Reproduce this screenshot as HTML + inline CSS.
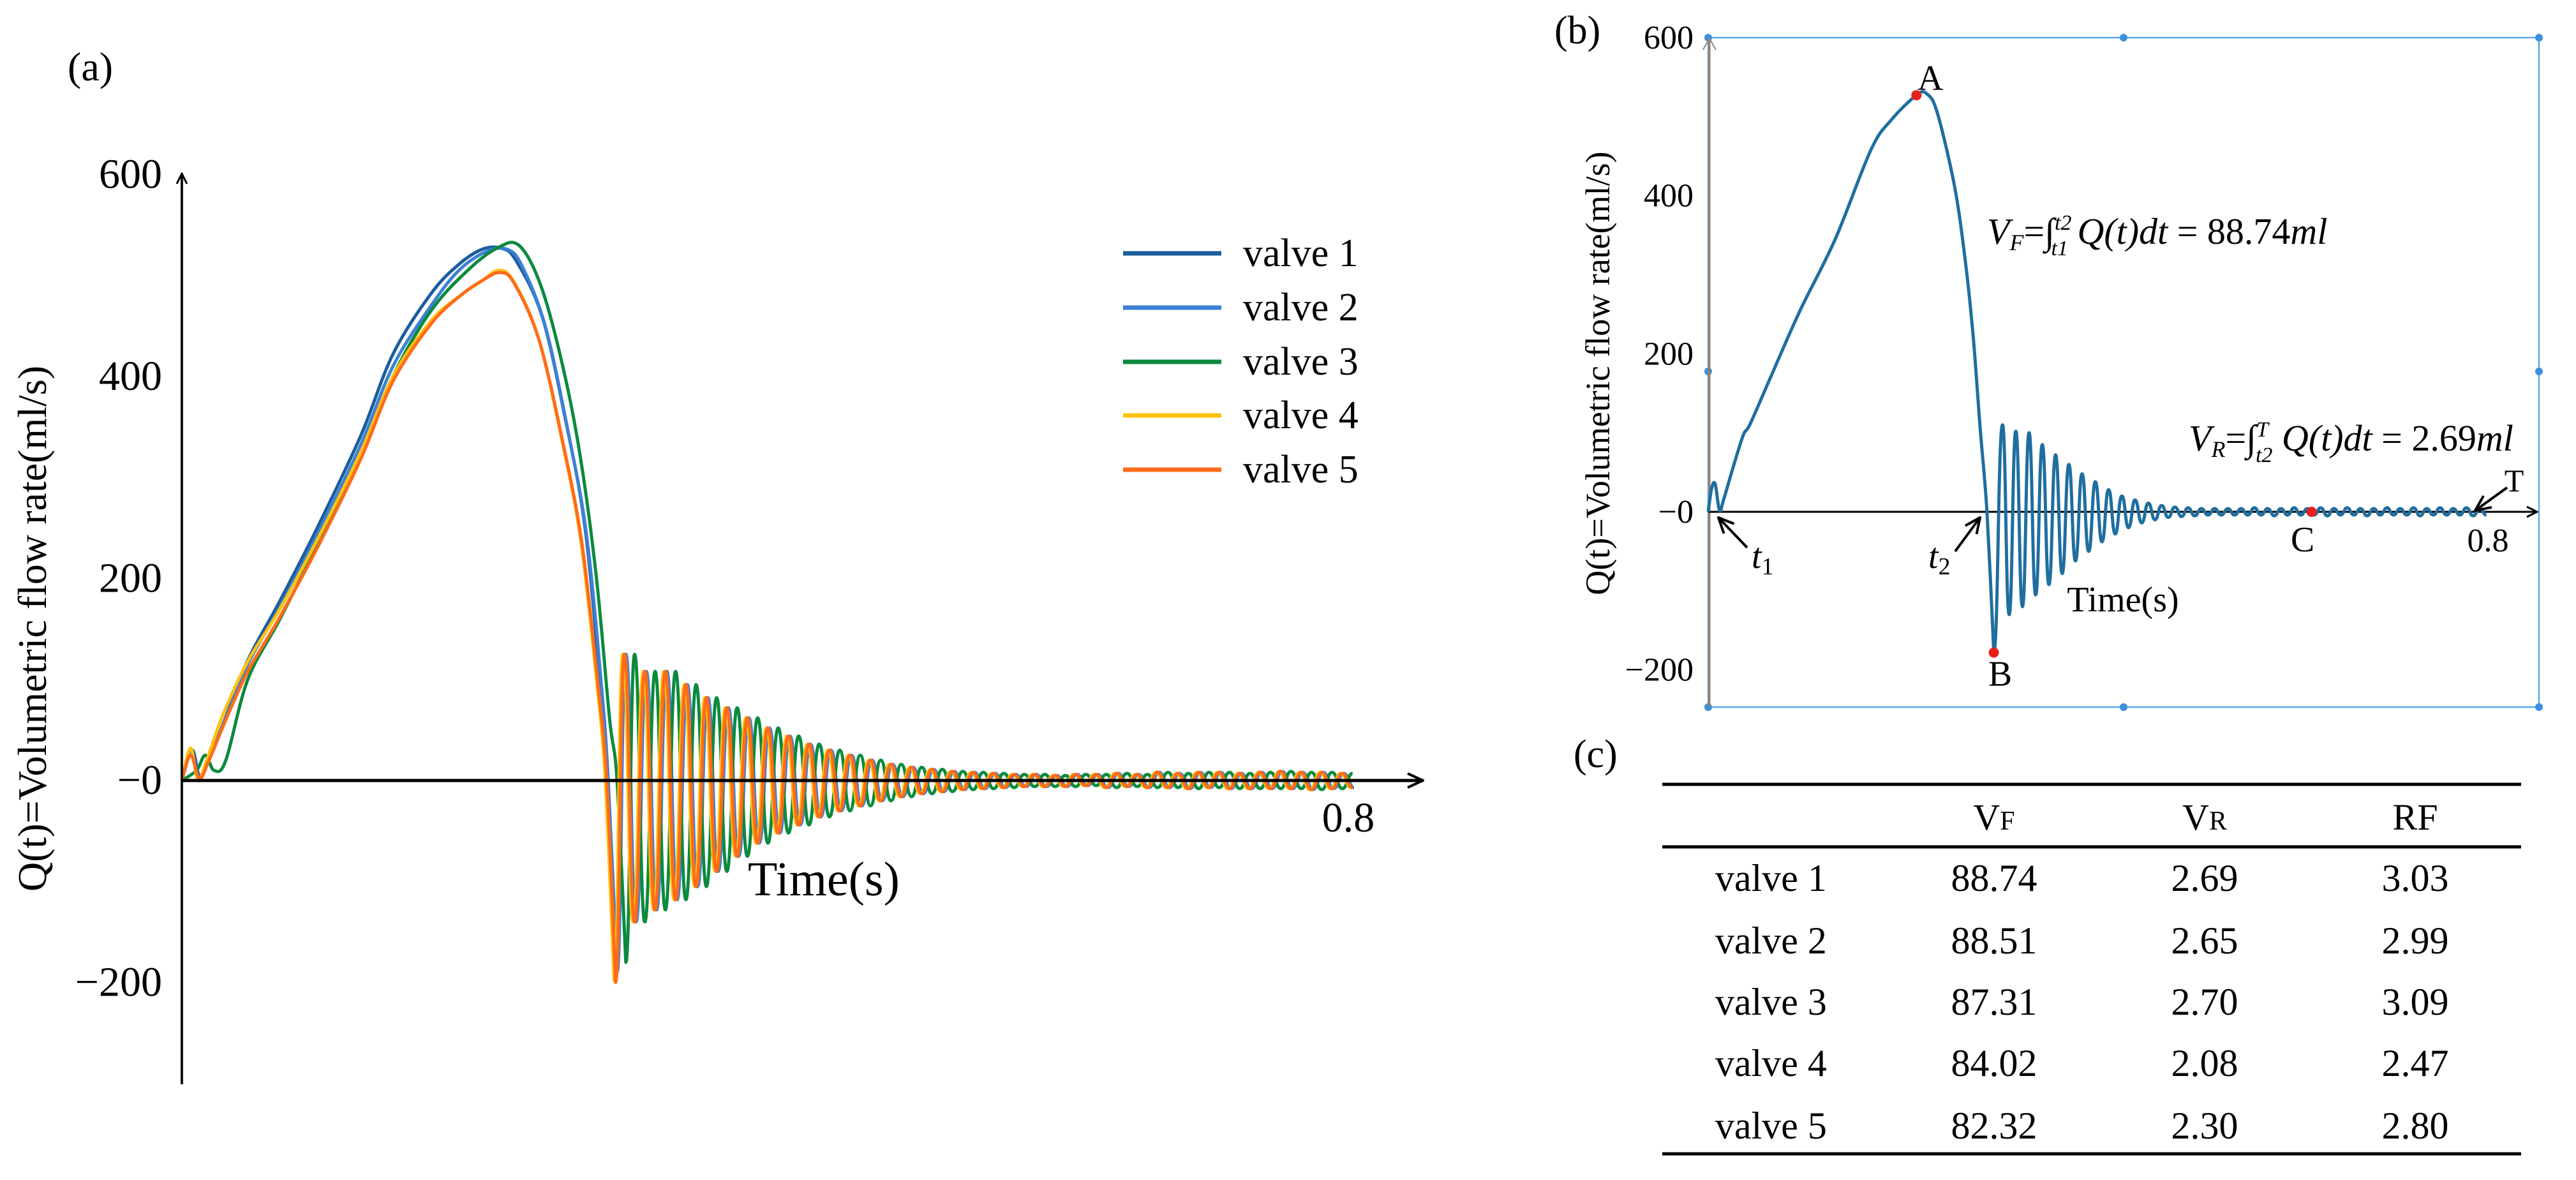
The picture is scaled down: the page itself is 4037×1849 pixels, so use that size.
<!DOCTYPE html>
<html><head><meta charset="utf-8"><style>
html,body{margin:0;padding:0;background:#fff;}
svg, svg text, svg tspan{font-family:"Liberation Serif","Times New Roman",serif !important;}
</style></head><body>
<svg id="fig" width="4037" height="1844" viewBox="0 0 4037 1844" xmlns="http://www.w3.org/2000/svg" font-family="Liberation Serif, serif">
<defs>
<marker id="arr" viewBox="0 0 20 20" refX="18" refY="10" markerWidth="20" markerHeight="20" markerUnits="userSpaceOnUse" orient="auto"><path d="M2,2 L18,10 L2,18" fill="none" stroke="#000" stroke-width="3"/></marker>
<marker id="arrB" viewBox="0 0 30 30" refX="28" refY="15" markerWidth="30" markerHeight="30" markerUnits="userSpaceOnUse" orient="auto"><path d="M4,4 L28,15 L4,26" fill="none" stroke="#000" stroke-width="4"/></marker>
</defs>
<g id="panelA" font-family="Liberation Serif, serif"></g>
<g id="panelB" font-family="Liberation Serif, serif"></g>
<g id="panelC" font-family="Liberation Serif, serif"></g>
</svg>
<script>
// ---------- Panel (a) data ----------
const valveNames = ["valve 1","valve 2","valve 3","valve 4","valve 5"];
const valveColors = ["#1a5e9e","#3d80d6","#0b8a3e","#ffc20e","#ff6b1a"];
const riseV1 = [[0,0],[0.007,30],[0.012,5],[0.018,20],[0.029,59],[0.045,119],[0.067,178],[0.093,252],[0.122,341],[0.144,422],[0.170,482],[0.189,511],[0.205,526],[0.218,527],[0.228,515],[0.246,459],[0.262,356],[0.275,252],[0.285,104],[0.290,0],[0.296,-195]];
const riseV2 = [[0,0],[0.006,28],[0.012,3],[0.018,22],[0.029,58],[0.045,115],[0.067,172],[0.093,245],[0.122,332],[0.144,410],[0.170,470],[0.189,505],[0.208,524],[0.222,526],[0.232,510],[0.248,450],[0.263,350],[0.276,245],[0.286,100],[0.291,0],[0.297,-190]];
const riseV3 = [[0,0],[0.010,10],[0.016,25],[0.022,10],[0.030,20],[0.045,100],[0.067,160],[0.093,235],[0.122,322],[0.144,400],[0.170,465],[0.195,505],[0.215,527],[0.230,530],[0.245,490],[0.260,410],[0.272,320],[0.283,200],[0.292,60],[0.297,0],[0.303,-180]];
const riseV4 = [[0,0],[0.006,32],[0.011,0],[0.017,20],[0.028,65],[0.045,118],[0.067,170],[0.093,240],[0.122,325],[0.144,400],[0.170,455],[0.190,480],[0.205,495],[0.216,505],[0.226,495],[0.243,440],[0.259,340],[0.272,240],[0.283,100],[0.289,0],[0.295,-198]];
const riseV5 = [[0,0],[0.006,25],[0.012,2],[0.018,18],[0.030,60],[0.045,108],[0.067,162],[0.093,232],[0.122,318],[0.144,395],[0.170,452],[0.190,480],[0.205,495],[0.217,503],[0.227,492],[0.244,435],[0.260,335],[0.273,235],[0.284,95],[0.290,0],[0.296,-200]];
const oscStartA = [0.302,0.303,0.309,0.301,0.302];
const oscHalfPeriodA = 0.007;
const oscExtremaA = [125,-140,108,-128,108,-118,95,-105,82,-90,72,-75,62,-62,52,-52,44,-44,36,-36,30,-30,25,-25,20,-20,16,-16,13,-13,11,-11,9,-9,8,-8,7,-7,6,-6,6,-6,5,-6,6,-5,6,-7,7,-6,6,-7,8,-7,7,-8,8,-7,8,-8,7,-8,8,-8,9,-8,8,-9,8,-8,7,-7,6];
const yTicksA = [600,400,200,0,-200];
const yTickLabelsA = ["600","400","200","\u22120","\u2212200"];

// ---------- Panel (b) data ----------
const riseB = [[0,0],[0.0036,30],[0.0072,35],[0.0116,2],[0.016,16],[0.025,54],[0.036,97],[0.043,111],[0.065,173],[0.094,254],[0.130,344],[0.167,458],[0.188,496],[0.2136,527],[0.224,529],[0.235,505],[0.253,410],[0.264,315],[0.272,220],[0.279,106],[0.286,0],[0.293,-178]];
const oscStartB = 0.302;
const oscHalfPeriodB = 0.0068;
const oscExtremaB = [110,-130,102,-120,100,-105,85,-92,72,-78,60,-62,48,-50,38,-38,28,-28,20,-20,15,-14,11,-10,8,-7,6,-6,5,-5,4,-4,4,-4,4,-4,4,-4,5,-4,4,-5,4,-4,5,-4,4,-4,5,-5,4,-4,5,-4,4,-5,4,-4,5,-4,4,-4,5,-5,4,-4,5,-4,4,-4,5,-5,4,-4];
const yTicksB = [600,400,200,0,-200];
const yTickLabelsB = ["600","400","200","\u22120","\u2212200"];
const pointA = [0.2136,527];
const pointB = [0.293,-178];
const pointC = [0.619,0];

// ---------- Panel (c) data ----------
const tableRows = ["valve 1","valve 2","valve 3","valve 4","valve 5"];
const tableVF = ["88.74","88.51","87.31","84.02","82.32"];
const tableVR = ["2.69","2.65","2.70","2.08","2.30"];
const tableRF = ["3.03","2.99","3.09","2.47","2.80"];

const NS = "http://www.w3.org/2000/svg";
const SERIF = "Liberation Serif, Times New Roman, serif";
function mk(parent, tag, attrs, text){
  const e = document.createElementNS(NS, tag);
  for (const k in attrs) e.setAttribute(k, attrs[k]);
  if (tag === "text") e.setAttribute("font-family", SERIF);
  if (text !== undefined) e.textContent = text;
  parent.appendChild(e);
  return e;
}
function splinePath(pts){
  let d = "M" + pts[0][0].toFixed(1) + "," + pts[0][1].toFixed(1);
  for (let i = 0; i < pts.length - 1; i++){
    const p0 = pts[Math.max(0,i-1)], p1 = pts[i], p2 = pts[i+1], p3 = pts[Math.min(pts.length-1,i+2)];
    const c1x = p1[0] + (p2[0]-p0[0])/6, c1y = p1[1] + (p2[1]-p0[1])/6;
    const c2x = p2[0] - (p3[0]-p1[0])/6, c2y = p2[1] - (p3[1]-p1[1])/6;
    d += " C" + c1x.toFixed(1) + "," + c1y.toFixed(1) + " " + c2x.toFixed(1) + "," + c2y.toFixed(1) + " " + p2[0].toFixed(1) + "," + p2[1].toFixed(1);
  }
  return d;
}
function oscPath(startPt, t0, half, ext, tEnd, xs, ys){
  let d = "";
  let px = startPt[0], py = startPt[1];
  for (let i = 0; i < ext.length; i++){
    const t = t0 + i*half;
    if (t > tEnd) break;
    const nx = xs(t), ny = ys(ext[i]);
    const mx = (px + nx)/2;
    d += " C" + mx.toFixed(1) + "," + py.toFixed(1) + " " + mx.toFixed(1) + "," + ny.toFixed(1) + " " + nx.toFixed(1) + "," + ny.toFixed(1);
    px = nx; py = ny;
  }
  return d;
}

// ================= Panel A =================
(function(){
  const g = document.getElementById("panelA");
  const xs = t => 285 + t/0.8*(2122-285);
  const ys = q => 1223 - q*1.5825;
  const lab = mk(g,"text",{x:106,y:126,"font-size":64,fill:"#000"},"(a)");
  
  
  const rises = [riseV1,riseV2,riseV3,riseV4,riseV5];
  rises.forEach((r,i)=>{
    const pts = r.map(p=>[xs(p[0]),ys(p[1])]);
    let d = splinePath(pts);
    d += oscPath(pts[pts.length-1], oscStartA[i], oscHalfPeriodA, oscExtremaA, 0.8, xs, ys);
    const p = mk(g,"path",{d:d,fill:"none",stroke:valveColors[i],"stroke-width":5,"stroke-linejoin":"round"});
    
    
  });
  const ya = mk(g,"line",{x1:285,y1:1699,x2:285,y2:272,stroke:"#111","stroke-width":4,"marker-end":"url(#arr)"});
  
  
  const xa = mk(g,"line",{x1:285,y1:1223,x2:2230,y2:1223,stroke:"#000","stroke-width":5,"marker-end":"url(#arrB)"});
  
  
  yTicksA.forEach((v,i)=>{
    const t = mk(g,"text",{x:254,y:ys(v)+21,"font-size":66,"text-anchor":"end",fill:"#000"},yTickLabelsA[i]);
    
    
  });
  const xt = mk(g,"text",{x:2113,y:1303,"font-size":66,"text-anchor":"middle",fill:"#000"},"0.8");
  
  
  const xtitle = mk(g,"text",{x:1291,y:1403,"font-size":76,"text-anchor":"middle",fill:"#000"},"Time(s)");
  
  
  const ytitle = mk(g,"text",{x:0,y:0,"font-size":64,"text-anchor":"middle",fill:"#000",transform:"translate(72,985) rotate(-90)"},"Q(t)=Volumetric flow rate(ml/s)");
  
  
  const lg = mk(g,"g",{});
  
  
  const legY = [397,482,567,651,736];
  valveNames.forEach((n,i)=>{
    const e = mk(lg,"g",{});
    
    
    mk(e,"line",{x1:1760,y1:legY[i],x2:1914,y2:legY[i],stroke:valveColors[i],"stroke-width":7});
    mk(e,"text",{x:1948,y:legY[i]+20,"font-size":62,fill:"#000"},n);
  });
})();

// ================= Panel B =================
(function(){
  const g = document.getElementById("panelB");
  const xs = t => 2677 + t/0.8*(3899-2677);
  const ys = q => 802 - q*1.2387;
  const lab = mk(g,"text",{x:2436,y:68,"font-size":62,fill:"#000"},"(b)");
  
  
  const box = mk(g,"rect",{x:2677,y:59,width:1302,height:1049,fill:"none",stroke:"#5aa9e6","stroke-width":2.5});
  
  
  [[2677,59],[3328,59],[3979,59],[2677,582],[3979,582],[2677,1108],[3328,1108],[3979,1108]].forEach(h=>{
    const c = mk(g,"circle",{cx:h[0],cy:h[1],r:6,fill:"#3d8fe0"});
    
    
  });
  const ya = mk(g,"line",{x1:2679,y1:1108,x2:2679,y2:62,stroke:"#a07a50","stroke-width":3});
  
  
  mk(g,"path",{d:"M2669,78 L2679,60 L2689,78",fill:"none",stroke:"#888","stroke-width":2});
  const xa = mk(g,"line",{x1:2677,y1:802,x2:3976,y2:802,stroke:"#000","stroke-width":3,"marker-end":"url(#arr)"});
  
  
  const pts = riseB.map(p=>[xs(p[0]),ys(p[1])]);
  let d = splinePath(pts);
  d += oscPath(pts[pts.length-1], oscStartB, oscHalfPeriodB, oscExtremaB, 0.8, xs, ys);
  const s = mk(g,"path",{d:d,fill:"none",stroke:"#1f6e9f","stroke-width":5,"stroke-linejoin":"round"});
  
  
  yTicksB.forEach((v,i)=>{
    const t = mk(g,"text",{x:2654,y:ys(v)+17,"font-size":52,"text-anchor":"end",fill:"#000"},yTickLabelsB[i]);
    
    
  });
  const xt = mk(g,"text",{x:3899,y:864,"font-size":52,"text-anchor":"middle",fill:"#000"},"0.8");
  
  
  const xtitle = mk(g,"text",{x:3327,y:958,"font-size":56,"text-anchor":"middle",fill:"#000"},"Time(s)");
  
  
  const ytitle = mk(g,"text",{x:0,y:0,"font-size":54,"text-anchor":"middle",fill:"#000",transform:"translate(2522,585) rotate(-90)"},"Q(t)=Volumetric flow rate(ml/s)");
  
  
  [[pointA,"A",22,-8,"point-a"],[pointB,"B",10,52,"point-b"],[pointC,"C",-14,62,"point-c"]].forEach(k=>{
    const c = mk(g,"circle",{cx:xs(k[0][0]),cy:ys(k[0][1]),r:8,fill:"#e8201c"});
    
    
    const t = mk(g,"text",{x:xs(k[0][0])+k[2],y:ys(k[0][1])+k[3],"font-size":56,"text-anchor":"middle",fill:"#000"},k[1]);
    
    
  });
  const tl = mk(g,"text",{x:3940,y:770,"font-size":50,"text-anchor":"middle",fill:"#000"},"T");
  
  
  [[2738,858,2693,811,"t1-arrow"],[3064,864,3103,811,"t2-arrow"],[3929,764,3879,800,"t-end-arrow"]].forEach(a=>{
    const l = mk(g,"line",{x1:a[0],y1:a[1],x2:a[2],y2:a[3],stroke:"#000","stroke-width":4,"marker-end":"url(#arrB)"});
    
    
  });
  const t1 = mk(g,"text",{x:2745,y:890,"font-size":56,"font-style":"italic",fill:"#000"});
  t1.innerHTML = 't<tspan font-size="38" dy="10" font-style="normal">1</tspan>';
  
  
  const t2 = mk(g,"text",{x:3022,y:890,"font-size":56,"font-style":"italic",fill:"#000"});
  t2.innerHTML = 't<tspan font-size="38" dy="10" font-style="normal">2</tspan>';
  
  
  const vf = mk(g,"text",{x:3114,y:382,"font-size":58,"font-style":"italic",fill:"#000"});
  vf.innerHTML = 'V<tspan font-size="36" dy="10">F</tspan><tspan dy="-10" font-style="normal">=∫</tspan><tspan font-size="34" dy="-22">t2</tspan><tspan font-size="34" dx="-32" dy="40">t1</tspan><tspan dy="-18"> Q(t)dt</tspan><tspan font-style="normal"> = 88.74</tspan>ml';
  
  
  const vr = mk(g,"text",{x:3430,y:706,"font-size":58,"font-style":"italic",fill:"#000"});
  vr.innerHTML = 'V<tspan font-size="36" dy="10">R</tspan><tspan dy="-10" font-style="normal">=∫</tspan><tspan font-size="34" dy="-22">T</tspan><tspan font-size="34" dx="-20" dy="40">t2</tspan><tspan dy="-18"> Q(t)dt</tspan><tspan font-style="normal"> = 2.69</tspan>ml';
  
  
})();

// ================= Panel C =================
(function(){
  const g = document.getElementById("panelC");
  const lab = mk(g,"text",{x:2466,y:1202,"font-size":62,fill:"#000"},"(c)");
  
  
  [[1229,5,"table-top-rule"],[1327,5,"table-header-rule"],[1808,5,"table-bottom-rule"]].forEach(r=>{
    const l = mk(g,"line",{x1:2605,y1:r[0],x2:3951,y2:r[0],stroke:"#000","stroke-width":r[1]});
    
    
  });
  const colX = [3125,3455,3785];
  const hdr = [['V','F'],['V','R'],['RF','']];
  hdr.forEach((h,i)=>{
    const t = mk(g,"text",{x:colX[i],y:1300,"font-size":58,"text-anchor":"middle",fill:"#000"});
    t.innerHTML = h[0] + (h[1] ? '<tspan font-size="42">'+h[1]+'</tspan>' : '');
    
    
  });
  const rowY = [1376,1474,1570,1666,1764];
  tableRows.forEach((r,i)=>{
    const y = rowY[i]+20;
    const c0 = mk(g,"text",{x:2688,y:y,"font-size":60,fill:"#000"},r);
    
    
    [tableVF[i],tableVR[i],tableRF[i]].forEach((v,j)=>{
      const c = mk(g,"text",{x:colX[j],y:y,"font-size":60,"text-anchor":"middle",fill:"#000"},v);
      
      
    });
  });
})();
</script>
</body></html>
